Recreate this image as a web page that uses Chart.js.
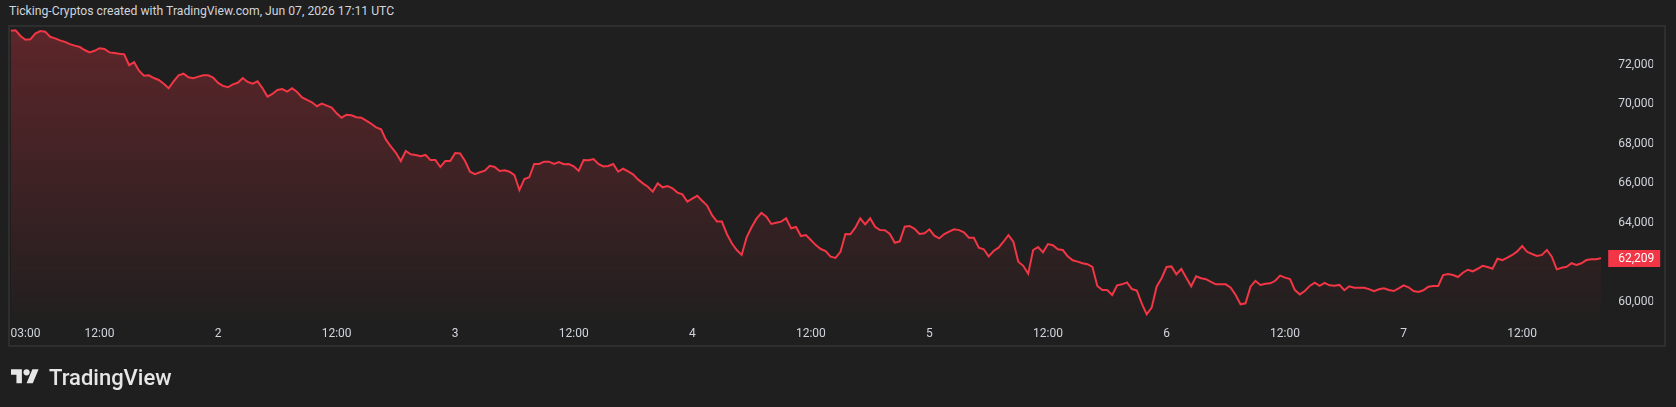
<!DOCTYPE html>
<html>
<head>
<meta charset="utf-8">
<script src="https://cdn.jsdelivr.net/npm/chart.js@4.4.1/dist/chart.umd.min.js"></script>
<style>
  html, body { margin: 0; padding: 0; background: #1f1f1f; overflow: hidden; }
  #wrap { position: relative; width: 1676px; height: 407px; }
  #title { position: absolute; left: 9px; top: 4px; font: 12.2px Roboto, sans-serif; color: #d1d4dc; white-space: nowrap; }
  #pane { position: absolute; left: 8px; top: 25px; width: 1654px; height: 318px; border: 2px solid #2e2e2e; }
  #logo { position: absolute; left: 11px; top: 364px; height: 26px; display: flex; align-items: center; gap: 10px; color: #e6e6e6; font: 500 22px Roboto, sans-serif; }
  canvas { position: absolute; left: 0; top: 0; }
</style>
</head>
<body>
<div id="wrap">
  <div id="title">Ticking-Cryptos created with TradingView.com, Jun 07, 2026 17:11 UTC</div>
  <div id="pane"></div>
  <canvas id="chart" width="1676" height="407"></canvas>
  <div id="logo">
    <svg width="28" height="22" viewBox="0 0 36 28"><path fill="#e6e6e6" d="M14 22H7V11H0V4h14v18zM28 22h-8l7.5-18h8L28 22z"/><circle fill="#e6e6e6" cx="20" cy="8" r="4"/></svg>
    <span>TradingView</span>
  </div>
</div>
<script>
// BTC price, one value every 30 min starting Jun 1 03:00
const stepHours = 0.5
const prices = [
  73740, 73760, 73470, 73280, 73300, 73590, 73720, 73690, 73430, 73350,
  73250, 73170, 73060, 72980, 72910, 72760, 72640, 72720, 72850, 72810,
  72640, 72610, 72570, 72540, 71990, 72140, 71710, 71460, 71480, 71340,
  71240, 71050, 70820, 71170, 71480, 71560, 71380, 71330, 71410, 71480,
  71480, 71360, 71090, 70940, 70870, 71020, 71100, 71340, 71140, 71050,
  71170, 70820, 70400, 70530, 70730, 70780, 70650, 70820, 70630, 70360,
  70230, 70110, 69910, 70040, 69940, 69840, 69550, 69330, 69480, 69450,
  69350, 69330, 69180, 69020, 68840, 68740, 68200, 67860, 67550, 67130,
  67640, 67470, 67440, 67370, 67440, 67180, 67180, 66830, 67130, 67130,
  67540, 67520, 67130, 66590, 66470, 66560, 66640, 66890, 66830, 66630,
  66660, 66590, 66420, 65660, 66220, 66310, 66980, 66980, 67100, 67100,
  66980, 67080, 66970, 66980, 66860, 66630, 67180, 67170, 67230, 66980,
  66860, 66880, 66980, 66590, 66740, 66610, 66460, 66200, 66000, 65830,
  65580, 66000, 65800, 65860, 65750, 65530, 65440, 65070, 65220, 65370,
  65120, 64870, 64390, 64060, 64060, 63430, 62960, 62620, 62370, 63260,
  63770, 64210, 64500, 64310, 63940, 64000, 64060, 64230, 63720, 63790,
  63330, 63380, 63130, 62870, 62670, 62570, 62280, 62220, 62530, 63430,
  63420, 63750, 64230, 63920, 64230, 63800, 63630, 63620, 63430, 62990,
  63060, 63800, 63840, 63690, 63430, 63470, 63670, 63350, 63210, 63430,
  63550, 63670, 63630, 63520, 63240, 63240, 62740, 62660, 62300, 62570,
  62740, 63040, 63370, 63040, 62030, 61820, 61420, 62620, 62770, 62500,
  62920, 62860, 62660, 62620, 62300, 62100, 62030, 61950, 61900, 61760,
  60800, 60590, 60590, 60340, 60830, 60880, 60980, 60640, 60560, 59900,
  59360, 59700, 60760, 61190, 61760, 61790, 61390, 61660, 61220, 60780,
  61290, 61190, 61140, 61010, 60880, 60880, 60880, 60710, 60340, 59870,
  59920, 60760, 61060, 60850, 60910, 60930, 61060, 61320, 61220, 61150,
  60590, 60370, 60540, 60800, 60960, 60800, 60950, 60830, 60810, 60850,
  60580, 60780, 60710, 60710, 60710, 60640, 60530, 60630, 60680, 60590,
  60540, 60680, 60830, 60730, 60540, 60490, 60580, 60760, 60800, 60800,
  61350, 61400, 61350, 61250, 61470, 61620, 61540, 61670, 61820, 61760,
  61670, 62180, 62110, 62230, 62370, 62550, 62820, 62530, 62420, 62320,
  62370, 62620, 62280, 61640, 61720, 61770, 61950, 61860, 61950, 62110,
  62150, 62150, 62209
]

// time axis: hours after Jun 1 03:00
const xTickHours = [0, 9, 21, 33, 45, 57, 69, 81, 93, 105, 117, 129, 141, 153]
const xTickLabels = ['03:00', '12:00', '2', '12:00', '3', '12:00', '4', '12:00', '5', '12:00', '6', '12:00', '7', '12:00']
const yTicks = [60000, 64000, 66000, 68000, 70000, 72000]

const lineRed = '#f23645'
const labelColor = '#d1d4dc'

const points = prices.map((p, i) => ({ x: i * stepHours, y: p }))

// red box with the last price on the price scale
const lastPriceLabel = {
  id: 'lastPriceLabel',
  afterDraw(chart) {
    const last = prices[prices.length - 1]
    const y = Math.round(chart.scales.y.getPixelForValue(last))
    const x = chart.chartArea.right + 7
    const c = chart.ctx
    c.save()
    c.fillStyle = lineRed
    c.fillRect(x, y - 8, 52, 17)
    c.fillStyle = '#ffffff'
    c.font = '12px Roboto'
    c.textBaseline = 'middle'
    c.fillText(last.toLocaleString('en-US'), x + 10, y + 1)
    c.restore()
  }
}

const ctx = document.getElementById('chart').getContext('2d')

const myChart = new Chart(ctx, {
  type: 'line',
  data: {
    datasets: [{
      data: points,
      borderColor: lineRed,
      borderWidth: 2,
      pointRadius: 0,
      tension: 0,
      fill: 'start',
      backgroundColor: (c) => {
        const area = c.chart.chartArea
        if (!area) return 'rgba(242,54,69,0.15)'
        const g = c.chart.ctx.createLinearGradient(0, area.top, 0, area.bottom)
        g.addColorStop(0, 'rgba(242,54,69,0.30)')
        g.addColorStop(1, 'rgba(242,54,69,0.01)')
        return g
      }
    }]
  },
  options: {
    responsive: false,
    animation: false,
    layout: { padding: { left: 10.6, right: 22.8, top: 26, bottom: 60 } },
    plugins: { legend: { display: false }, tooltip: { enabled: false } },
    scales: {
      x: {
        type: 'linear',
        min: 0,
        max: (prices.length - 1) * stepHours,
        grid: { display: false, drawTicks: false },
        border: { display: false },
        afterBuildTicks: (s) => { s.ticks = xTickHours.map(v => ({ value: v })).concat([{ value: s.max }]) },
        afterFit: (s) => { s.height = 27 },
        ticks: {
          align: 'inner',
          autoSkip: false,
          maxRotation: 0,
          padding: 7,
          color: labelColor,
          font: { family: 'Roboto', size: 12 },
          callback: (v, i) => xTickLabels[i] ?? ''
        }
      },
      y: {
        position: 'right',
        min: 59072,
        max: 73977,
        grid: { display: false, drawTicks: false },
        border: { display: false },
        afterBuildTicks: (s) => { s.ticks = yTicks.map(v => ({ value: v })) },
        afterFit: (s) => { s.width = 52 },
        ticks: {
          padding: 17,
          color: labelColor,
          font: { family: 'Roboto', size: 12 },
          callback: (v) => v.toLocaleString('en-US')
        }
      }
    }
  },
  plugins: [lastPriceLabel]
})
</script>
</body>
</html>
